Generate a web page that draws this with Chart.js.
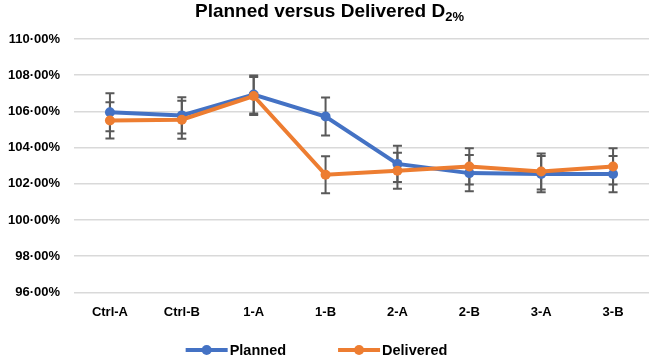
<!DOCTYPE html>
<html>
<head>
<meta charset="utf-8">
<script src="https://cdn.jsdelivr.net/npm/chart.js@4"></script>
<style>
  body { margin: 0; background: #fff; }
  #wrap { position: relative; width: 649px; height: 357px; }
  #title {
    position: absolute; top: 0; left: 0; width: 649px; text-align: center;
    font-family: "Liberation Sans", "DejaVu Sans", sans-serif;
    font-weight: bold; font-size: 19px; line-height: 22px; color: #000;
    padding-left: 10px; box-sizing: border-box;
  }
  #title sub { font-size: 13px; vertical-align: -4px; line-height: 0; }
</style>
</head>
<body>
<div id="wrap">
  <div id="title">Planned versus Delivered D<sub>2%</sub></div>
  <canvas id="chart" width="649" height="357"></canvas>
</div>
<script>
// values
const categories = ['Ctrl-A', 'Ctrl-B', '1-A', '1-B', '2-A', '2-B', '3-A', '3-B'];
const planned = [105.95, 105.78, 106.93, 105.72, 103.10, 102.59, 102.54, 102.54];
const delivered = [105.50, 105.54, 106.85, 102.50, 102.72, 102.96, 102.68, 102.96];
const plannedErr = [1.05, 1.0, 1.05, 1.05, 1.0, 1.0, 1.0, 1.0];
const deliveredErr = [1.0, 1.05, 1.05, 1.02, 1.0, 1.0, 1.0, 1.0];

const blue = '#4472C4';
const orange = '#ED7D31';
const fontFamily = '"Liberation Sans", "DejaVu Sans", sans-serif';

// draws the error bars under the lines
const errorBars = {
    id: 'errorBars',
    beforeDatasetsDraw(chart) {
        const ctx = chart.ctx;
        const x = chart.scales.x, y = chart.scales.y;
        const sets = [[planned, plannedErr], [delivered, deliveredErr]];
        ctx.save();
        ctx.strokeStyle = '#595959';
        ctx.lineWidth = 2;
        sets.forEach(([vals, errs]) => {
            vals.forEach((v, i) => {
                const px = x.getPixelForValue(i);
                const top = y.getPixelForValue(v + errs[i]);
                const bot = y.getPixelForValue(v - errs[i]);
                ctx.beginPath();
                ctx.moveTo(px, top); ctx.lineTo(px, bot);
                ctx.moveTo(px - 4.5, top); ctx.lineTo(px + 4.5, top);
                ctx.moveTo(px - 4.5, bot); ctx.lineTo(px + 4.5, bot);
                ctx.stroke();
            });
        });
        ctx.restore();
    }
};

// legend at the bottom: line with a dot, then the label
const bottomLegend = {
    id: 'bottomLegend',
    afterDraw(chart) {
        const ctx = chart.ctx;
        const sets = chart.data.datasets;
        const y = 350, markW = 42, gap = 2, between = 52;
        ctx.save();
        ctx.font = 'bold 14.5px ' + fontFamily;
        ctx.textBaseline = 'middle';
        const widths = sets.map(d => markW + gap + ctx.measureText(d.label).width);
        const total = widths.reduce((a, b) => a + b, 0) + between * (sets.length - 1);
        let x = chart.width / 2 - total / 2 - 8;
        sets.forEach((d, i) => {
            ctx.strokeStyle = d.borderColor;
            ctx.fillStyle = d.borderColor;
            ctx.lineWidth = 4;
            ctx.beginPath(); ctx.moveTo(x, y); ctx.lineTo(x + markW, y); ctx.stroke();
            ctx.beginPath(); ctx.arc(x + markW / 2, y, 5, 0, Math.PI * 2); ctx.fill();
            ctx.fillStyle = '#000';
            ctx.fillText(d.label, x + markW + gap, y + 1);
            x += widths[i] + between;
        });
        ctx.restore();
    }
};

const ctx = document.getElementById('chart').getContext('2d');
new Chart(ctx, {
    type: 'line',
    data: {
        labels: categories,
        datasets: [{
            label: 'Planned',
            data: planned,
            borderColor: blue,
            backgroundColor: blue,
            borderWidth: 4,
            pointRadius: 5,
            pointBorderWidth: 0,
            order: 1
        }, {
            label: 'Delivered',
            data: delivered,
            borderColor: orange,
            backgroundColor: orange,
            borderWidth: 4,
            pointRadius: 5,
            pointBorderWidth: 0,
            order: 0
        }]
    },
    options: {
        responsive: false,
        animation: false,
        layout: { autoPadding: false, padding: { top: 39, right: 0, left: 0, bottom: 33 } },
        plugins: {
            tooltip: { enabled: false },
            legend: { display: false }
        },
        scales: {
            x: {
                offset: true,
                afterFit(scale) { scale.paddingLeft = 0; scale.paddingRight = 0; },
                grid: { display: false },
                border: { display: false },
                ticks: { color: '#000', padding: 4, font: { family: fontFamily, size: 13, weight: 'bold' } }
            },
            y: {
                min: 96,
                max: 110,
                afterFit(scale) { scale.width = 74; },
                grid: { color: '#D9D9D9', lineWidth: 1.5, drawTicks: false },
                border: { display: false },
                ticks: {
                    stepSize: 2,
                    padding: 14,
                    color: '#000',
                    font: { family: fontFamily, size: 13, weight: 'bold' },
                    callback: v => v.toFixed(2).replace('.', '·') + '%'
                }
            }
        }
    },
    plugins: [errorBars, bottomLegend]
});
</script>
</body>
</html>
